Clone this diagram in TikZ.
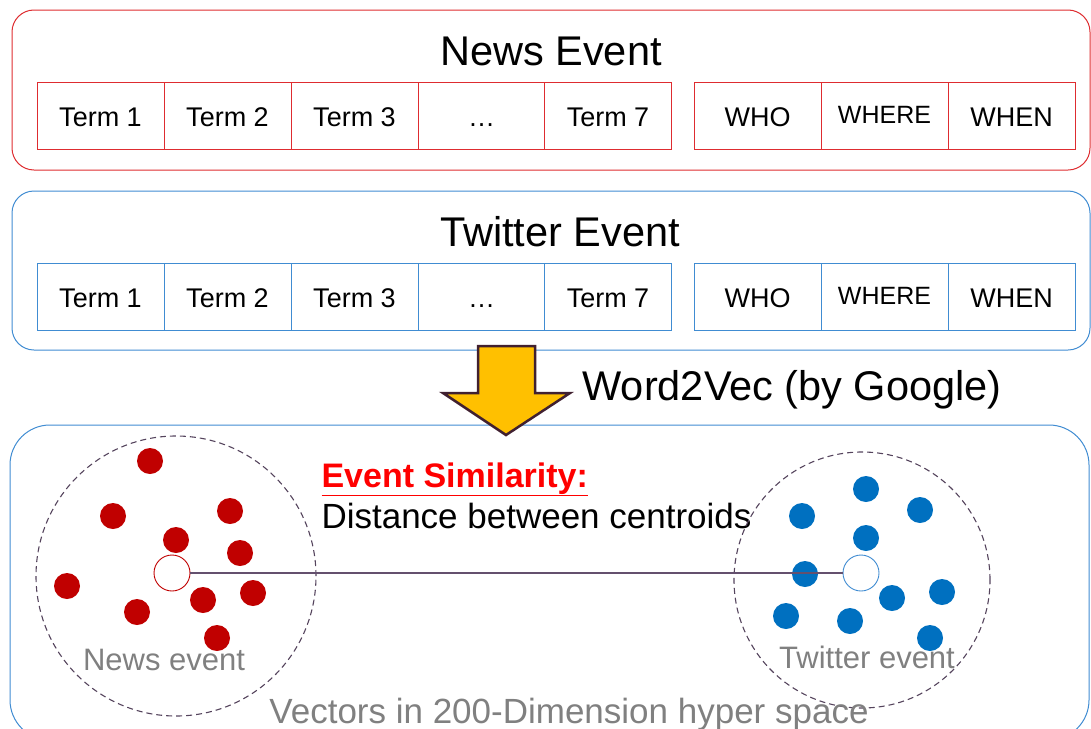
\documentclass[tikz,border=0pt]{standalone}
\usepackage{fontspec}
\setmainfont{Liberation Sans}
\usepackage{tikz}
\usetikzlibrary{positioning}
\definecolor{newsred}{RGB}{222,44,48}
\definecolor{twitblue}{RGB}{64,140,210}
\definecolor{dotred}{RGB}{192,0,0}
\definecolor{dotblue}{RGB}{0,112,192}
\definecolor{labelgray}{RGB}{128,128,128}
\definecolor{arrowfill}{RGB}{255,192,0}
\definecolor{arrowline}{RGB}{64,32,48}
\definecolor{linkpurple}{RGB}{100,80,110}

\begin{document}
\begin{tikzpicture}[x=1pt, y=-1pt,
    cellbox/.style={draw=#1, fill=white, shape=rectangle, minimum width=127pt, minimum height=67pt,
        inner sep=0pt, text height=21pt, text depth=0pt, font=\fontsize{27}{30}\selectfont},
    groupbox/.style={draw=#1, rounded corners=22pt, line width=1pt},
    titletext/.style={anchor=base, font=\fontsize{41.5}{46}\selectfont},
    reddot/.style={circle, fill=dotred, minimum size=26pt, inner sep=0pt},
    bluedot/.style={circle, fill=dotblue, minimum size=26pt, inner sep=0pt},
    centroid/.style={circle, draw=#1, fill=white, minimum size=36pt, inner sep=0pt, line width=0.9pt},
    cloud/.style={circle, draw=linkpurple!85!black, dash pattern=on 6pt off 4pt, line width=1.1pt, inner sep=0pt},
    graytext/.style={text=labelgray, anchor=base, font=\fontsize{31}{34}\selectfont}]
    \useasboundingbox (0,0) rectangle (1091,728);
    % Paths, nodes and wires:
    % News event box
    \draw[groupbox=newsred] (12,10) rectangle (1090,170);
    \node[titletext](NT) at (551,65){News Event};
    \node[cellbox=newsred](N1) at (100.5,115.5){Term 1};
    \node[cellbox=newsred](N2) at (227.5,115.5){Term 2};
    \node[cellbox=newsred](N3) at (354.5,115.5){Term 3};
    \node[cellbox=newsred](N4) at (481.5,115.5){\dots};
    \node[cellbox=newsred](N5) at (608,115.5){Term 7};
    \node[cellbox=newsred](N6) at (757.5,115.5){WHO};
    \node[cellbox=newsred, font=\fontsize{25}{28}\selectfont, text height=16pt](N7) at (884.5,115.5){WHERE};
    \node[cellbox=newsred](N8) at (1011.5,115.5){WHEN};
    % Twitter event box
    \draw[groupbox=twitblue] (12,191) rectangle (1090,350);
    \node[titletext](TT) at (560,246){Twitter Event};
    \node[cellbox=twitblue](T1) at (100.5,296.5){Term 1};
    \node[cellbox=twitblue](T2) at (227.5,296.5){Term 2};
    \node[cellbox=twitblue](T3) at (354.5,296.5){Term 3};
    \node[cellbox=twitblue](T4) at (481.5,296.5){\dots};
    \node[cellbox=twitblue](T5) at (608,296.5){Term 7};
    \node[cellbox=twitblue](T6) at (757.5,296.5){WHO};
    \node[cellbox=twitblue, font=\fontsize{25}{28}\selectfont, text height=16pt](T7) at (884.5,296.5){WHERE};
    \node[cellbox=twitblue](T8) at (1011.5,296.5){WHEN};
    % Vector space box
    \draw[draw=twitblue, line width=1pt, rounded corners=40pt] (10,425) rectangle (1089,740);
    % Word2Vec arrow
    \draw[fill=arrowfill, draw=arrowline, line width=2.5pt, line join=miter]
        (478,346) -- (535,346) -- (535,393) -- (570,393) -- (506,435) -- (443,393) -- (478,393) -- cycle;
    \node[anchor=base west, font=\fontsize{41.5}{46}\selectfont](W2V) at (579,400){Word2Vec (by Google)};
    % Similarity text
    \node[anchor=base west, text=red, font=\bfseries\fontsize{34}{38}\selectfont](SIM) at (318,487){\underline{Event Similarity:}};
    \node[anchor=base west, font=\fontsize{35}{38}\selectfont](DIST) at (318,528){Distance between centroids};
    % Clusters
    \node[cloud, minimum size=280pt](NC) at (176,576){};
    \node[cloud, minimum size=256pt](TC) at (862,580){};
    \foreach \px/\py [count=\i] in {150/461, 113/516, 230/511, 176/540, 240/553, 67/586, 137/612, 203/600, 253/593, 217/638}
        \node[reddot](ND\i) at (\px,\py){};
    \foreach \px/\py [count=\i] in {866/489, 802/516, 920/510, 866/538, 805/574, 892/598, 942/592, 786/616, 850/621, 930/638}
        \node[bluedot](TD\i) at (\px,\py){};
    \node[centroid=dotred](NCEN) at (172,573){};
    \node[centroid=twitblue](TCEN) at (861,573){};
    \draw[linkpurple, line width=1.2pt] (NCEN) -- (TCEN);
    \node[graytext](NL) at (164,670){News event};
    \node[graytext](TL) at (867,668){Twitter event};
    \node[graytext, font=\fontsize{35}{38}\selectfont](VL) at (569,723){Vectors in 200-Dimension hyper space};
\end{tikzpicture}
\end{document}
